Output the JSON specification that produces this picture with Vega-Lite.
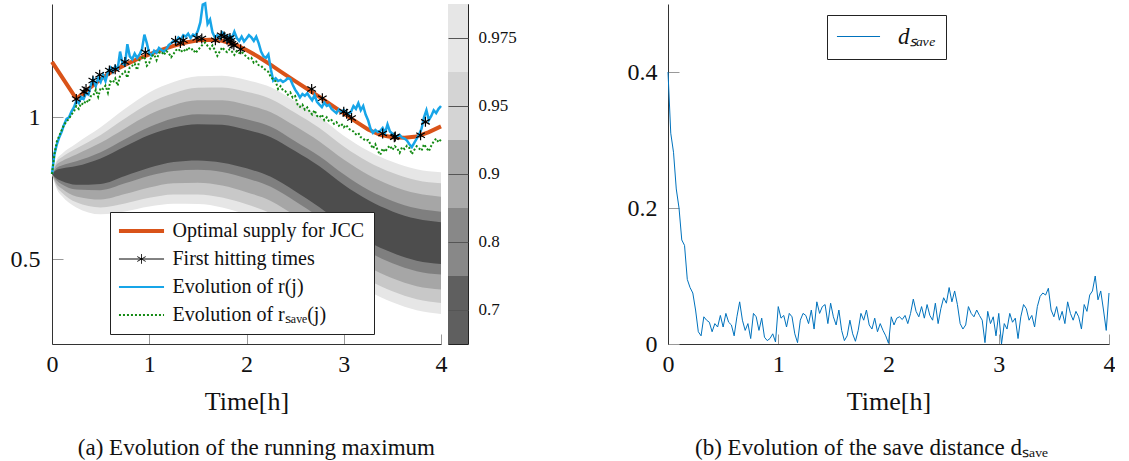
{
"$schema": "https://vega.github.io/schema/vega-lite/v6.json",
"padding": {"left": 10, "top": -2, "right": 0, "bottom": 0},
"datasets": {
"series": [
{"t":0,"r":0.8,"s":0.8,"d":0.4},{"t":0.025,"r":0.87,"s":0.87,"d":0.31},{"t":0.05,"r":0.905,"s":0.915,"d":0.282},{"t":0.075,"r":0.93,"s":0.935,"d":0.228},{"t":0.1,"r":0.95,"s":0.955,"d":0.2},{"t":0.125,"r":0.975,"s":0.975,"d":0.153},{"t":0.15,"r":0.995,"s":0.985,"d":0.145},{"t":0.175,"r":1.0,"s":0.995,"d":0.095},{"t":0.2,"r":1.02,"s":1.01,"d":0.083},{"t":0.225,"r":1.035,"s":1.02,"d":0.075},
{"t":0.25,"r":1.058,"s":1.04,"d":0.05},{"t":0.275,"r":1.05,"s":1.03,"d":0.018},{"t":0.3,"r":1.072,"s":1.05,"d":0.012},{"t":0.325,"r":1.065,"s":1.045,"d":0.04},{"t":0.35,"r":1.085,"s":1.06,"d":0.035},{"t":0.375,"r":1.08,"s":1.053,"d":0.032},{"t":0.4,"r":1.115,"s":1.075,"d":0.018},{"t":0.425,"r":1.135,"s":1.077,"d":0.03},{"t":0.45,"r":1.11,"s":1.097,"d":0.025},{"t":0.475,"r":1.14,"s":1.072,"d":0.042},
{"t":0.5,"r":1.125,"s":1.104,"d":0.025},{"t":0.525,"r":1.15,"s":1.1,"d":0.045},{"t":0.55,"r":1.128,"s":1.112,"d":0.032},{"t":0.575,"r":1.16,"s":1.087,"d":0.028},{"t":0.6,"r":1.175,"s":1.127,"d":0.012},{"t":0.625,"r":1.16,"s":1.122,"d":0.04},{"t":0.65,"r":1.18,"s":1.137,"d":0.062},{"t":0.675,"r":1.17,"s":1.112,"d":0.035},{"t":0.7,"r":1.232,"s":1.147,"d":0.02},{"t":0.725,"r":1.19,"s":1.154,"d":0.03},
{"t":0.75,"r":1.185,"s":1.162,"d":0.008},{"t":0.775,"r":1.258,"s":1.14,"d":0.045},{"t":0.8,"r":1.215,"s":1.177,"d":0.04},{"t":0.825,"r":1.205,"s":1.182,"d":0.02},{"t":0.85,"r":1.225,"s":1.19,"d":0.038},{"t":0.875,"r":1.21,"s":1.167,"d":0.01},{"t":0.9,"r":1.222,"s":1.202,"d":0.005},{"t":0.925,"r":1.24,"s":1.21,"d":0.008},{"t":0.95,"r":1.292,"s":1.214,"d":0.015},{"t":0.975,"r":1.262,"s":1.182,"d":0.003},
{"t":1.0,"r":1.225,"s":1.192,"d":0.055},{"t":1.025,"r":1.218,"s":1.217,"d":0.038},{"t":1.05,"r":1.235,"s":1.222,"d":0.042},{"t":1.075,"r":1.228,"s":1.202,"d":0.025},{"t":1.1,"r":1.245,"s":1.227,"d":0.045},{"t":1.125,"r":1.238,"s":1.232,"d":0.04},{"t":1.15,"r":1.232,"s":1.22,"d":0.015},{"t":1.175,"r":1.24,"s":1.234,"d":0.002},{"t":1.2,"r":1.255,"s":1.227,"d":0.035},{"t":1.225,"r":1.262,"s":1.212,"d":0.045},
{"t":1.25,"r":1.27,"s":1.224,"d":0.042},{"t":1.275,"r":1.265,"s":1.237,"d":0.03},{"t":1.3,"r":1.282,"s":1.242,"d":0.05},{"t":1.325,"r":1.275,"s":1.23,"d":0.022},{"t":1.35,"r":1.29,"s":1.24,"d":0.062},{"t":1.375,"r":1.285,"s":1.232,"d":0.045},{"t":1.4,"r":1.295,"s":1.247,"d":0.055},{"t":1.425,"r":1.28,"s":1.237,"d":0.058},{"t":1.45,"r":1.292,"s":1.242,"d":0.03},{"t":1.475,"r":1.288,"s":1.227,"d":0.06},
{"t":1.5,"r":1.305,"s":1.237,"d":0.04},{"t":1.525,"r":1.335,"s":1.247,"d":0.028},{"t":1.55,"r":1.398,"s":1.257,"d":0.05},{"t":1.575,"r":1.402,"s":1.264,"d":0.02},{"t":1.6,"r":1.33,"s":1.252,"d":0.005},{"t":1.625,"r":1.345,"s":1.242,"d":0.012},{"t":1.65,"r":1.3,"s":1.254,"d":0.035},{"t":1.675,"r":1.282,"s":1.237,"d":0.015},{"t":1.7,"r":1.29,"s":1.217,"d":0.004},{"t":1.725,"r":1.278,"s":1.232,"d":0.02},
{"t":1.75,"r":1.3,"s":1.247,"d":0.045},{"t":1.775,"r":1.292,"s":1.237,"d":0.035},{"t":1.8,"r":1.27,"s":1.23,"d":0.05},{"t":1.825,"r":1.288,"s":1.24,"d":0.028},{"t":1.85,"r":1.28,"s":1.232,"d":0.022},{"t":1.875,"r":1.302,"s":1.22,"d":0.038},{"t":1.9,"r":1.28,"s":1.234,"d":0.018},{"t":1.925,"r":1.27,"s":1.227,"d":0.03},{"t":1.95,"r":1.285,"s":1.232,"d":0.02},{"t":1.975,"r":1.268,"s":1.222,"d":0.012},
{"t":2.0,"r":1.278,"s":1.214,"d":0.001},{"t":2.025,"r":1.29,"s":1.207,"d":0.04},{"t":2.05,"r":1.282,"s":1.21,"d":0.028},{"t":2.075,"r":1.27,"s":1.192,"d":0.038},{"t":2.1,"r":1.285,"s":1.197,"d":0.04},{"t":2.125,"r":1.262,"s":1.184,"d":0.036},{"t":2.15,"r":1.232,"s":1.182,"d":0.042},{"t":2.175,"r":1.215,"s":1.172,"d":0.03},{"t":2.2,"r":1.21,"s":1.167,"d":0.045},{"t":2.225,"r":1.222,"s":1.16,"d":0.066},
{"t":2.25,"r":1.17,"s":1.142,"d":0.048},{"t":2.275,"r":1.13,"s":1.134,"d":0.04},{"t":2.3,"r":1.138,"s":1.127,"d":0.055},{"t":2.325,"r":1.128,"s":1.1,"d":0.038},{"t":2.35,"r":1.132,"s":1.11,"d":0.058},{"t":2.375,"r":1.125,"s":1.095,"d":0.042},{"t":2.4,"r":1.13,"s":1.092,"d":0.035},{"t":2.425,"r":1.138,"s":1.08,"d":0.06},{"t":2.45,"r":1.135,"s":1.088,"d":0.03},{"t":2.475,"r":1.115,"s":1.07,"d":0.052},
{"t":2.5,"r":1.098,"s":1.075,"d":0.068},{"t":2.525,"r":1.085,"s":1.045,"d":0.06},{"t":2.55,"r":1.07,"s":1.037,"d":0.083},{"t":2.575,"r":1.082,"s":1.045,"d":0.062},{"t":2.6,"r":1.076,"s":1.027,"d":0.078},{"t":2.625,"r":1.085,"s":1.035,"d":0.058},{"t":2.65,"r":1.072,"s":1.02,"d":0.03},{"t":2.675,"r":1.06,"s":1.01,"d":0.022},{"t":2.7,"r":1.078,"s":1.025,"d":0.028},{"t":2.725,"r":1.055,"s":1.005,"d":0.055},
{"t":2.75,"r":1.045,"s":1.0,"d":0.045},{"t":2.775,"r":1.036,"s":1.01,"d":0.04},{"t":2.8,"r":1.052,"s":0.99,"d":0.05},{"t":2.825,"r":1.04,"s":1.0,"d":0.042},{"t":2.85,"r":1.044,"s":0.985,"d":0.035},{"t":2.875,"r":1.03,"s":0.99,"d":0.002},{"t":2.9,"r":1.022,"s":0.977,"d":0.048},{"t":2.925,"r":1.015,"s":0.983,"d":0.03},{"t":2.95,"r":1.028,"s":0.97,"d":0.04},{"t":2.975,"r":1.02,"s":0.977,"d":0.012},
{"t":3.0,"r":1.026,"s":0.965,"d":0.045},{"t":3.025,"r":1.018,"s":0.973,"d":0.0},{"t":3.05,"r":1.012,"s":0.96,"d":0.03},{"t":3.075,"r":1.02,"s":0.955,"d":0.022},{"t":3.1,"r":1.04,"s":0.95,"d":0.045},{"t":3.125,"r":1.03,"s":0.94,"d":0.032},{"t":3.15,"r":1.05,"s":0.945,"d":0.038},{"t":3.175,"r":1.025,"s":0.93,"d":0.008},{"t":3.2,"r":1.04,"s":0.925,"d":0.04},{"t":3.225,"r":1.01,"s":0.917,"d":0.058},
{"t":3.25,"r":0.99,"s":0.92,"d":0.052},{"t":3.275,"r":0.96,"s":0.905,"d":0.035},{"t":3.3,"r":0.945,"s":0.89,"d":0.042},{"t":3.325,"r":0.955,"s":0.905,"d":0.025},{"t":3.35,"r":0.948,"s":0.882,"d":0.055},{"t":3.375,"r":0.952,"s":0.868,"d":0.07},{"t":3.4,"r":0.962,"s":0.89,"d":0.075},{"t":3.425,"r":0.945,"s":0.878,"d":0.072},{"t":3.45,"r":0.975,"s":0.892,"d":0.082},{"t":3.475,"r":0.95,"s":0.9,"d":0.05},
{"t":3.5,"r":0.942,"s":0.885,"d":0.04},{"t":3.525,"r":0.935,"s":0.898,"d":0.055},{"t":3.55,"r":0.932,"s":0.89,"d":0.035},{"t":3.575,"r":0.938,"s":0.875,"d":0.048},{"t":3.6,"r":0.928,"s":0.895,"d":0.03},{"t":3.625,"r":0.925,"s":0.888,"d":0.062},{"t":3.65,"r":0.918,"s":0.9,"d":0.045},{"t":3.675,"r":0.905,"s":0.892,"d":0.035},{"t":3.7,"r":0.895,"s":0.87,"d":0.048},{"t":3.725,"r":0.91,"s":0.885,"d":0.04},
{"t":3.75,"r":0.925,"s":0.898,"d":0.022},{"t":3.775,"r":0.94,"s":0.89,"d":0.058},{"t":3.8,"r":0.96,"s":0.882,"d":0.048},{"t":3.825,"r":1.0,"s":0.905,"d":0.072},{"t":3.85,"r":1.025,"s":0.892,"d":0.078},{"t":3.875,"r":0.99,"s":0.88,"d":0.1},{"t":3.9,"r":1.005,"s":0.9,"d":0.065},{"t":3.925,"r":1.025,"s":0.915,"d":0.078},{"t":3.95,"r":1.015,"s":0.925,"d":0.05},{"t":3.975,"r":1.03,"s":0.912,"d":0.02},
{"t":4.0,"r":1.04,"s":0.922,"d":0.075}
],
"fan": [
{"t":0,"l1":0.8,"h1":0.8,"l2":0.8,"h2":0.8,"l3":0.8,"h3":0.8,"l4":0.8,"h4":0.8,"l5":0.8,"h5":0.8},
{"t":0.05,"l1":0.783,"h1":0.815,"l2":0.776,"h2":0.822,"l3":0.764,"h3":0.834,"l4":0.754,"h4":0.844,"l5":0.746,"h5":0.852},
{"t":0.1,"l1":0.775,"h1":0.819,"l2":0.764,"h2":0.83,"l3":0.749,"h3":0.845,"l4":0.735,"h4":0.859,"l5":0.723,"h5":0.871},
{"t":0.25,"l1":0.762,"h1":0.828,"l2":0.745,"h2":0.845,"l3":0.721,"h3":0.869,"l4":0.7,"h4":0.89,"l5":0.682,"h5":0.908},
{"t":0.5,"l1":0.765,"h1":0.855,"l2":0.743,"h2":0.877,"l3":0.71,"h3":0.91,"l4":0.682,"h4":0.938,"l5":0.658,"h5":0.965},
{"t":0.75,"l1":0.793,"h1":0.897,"l2":0.767,"h2":0.923,"l3":0.729,"h3":0.961,"l4":0.696,"h4":0.996,"l5":0.668,"h5":1.03},
{"t":1.0,"l1":0.822,"h1":0.938,"l2":0.794,"h2":0.966,"l3":0.752,"h3":1.01,"l4":0.716,"h4":1.05,"l5":0.685,"h5":1.088},
{"t":1.25,"l1":0.842,"h1":0.964,"l2":0.811,"h2":0.997,"l3":0.767,"h3":1.043,"l4":0.728,"h4":1.085,"l5":0.695,"h5":1.125},
{"t":1.5,"l1":0.848,"h1":0.976,"l2":0.815,"h2":1.011,"l3":0.769,"h3":1.06,"l4":0.728,"h4":1.104,"l5":0.694,"h5":1.145},
{"t":1.75,"l1":0.84,"h1":0.974,"l2":0.807,"h2":1.009,"l3":0.759,"h3":1.06,"l4":0.717,"h4":1.105,"l5":0.682,"h5":1.147},
{"t":2.0,"l1":0.82,"h1":0.956,"l2":0.785,"h2":0.993,"l3":0.736,"h3":1.044,"l4":0.693,"h4":1.09,"l5":0.657,"h5":1.132},
{"t":2.25,"l1":0.79,"h1":0.93,"l2":0.755,"h2":0.967,"l3":0.705,"h3":1.018,"l4":0.661,"h4":1.065,"l5":0.624,"h5":1.106},
{"t":2.5,"l1":0.739,"h1":0.881,"l2":0.704,"h2":0.916,"l3":0.653,"h3":0.969,"l4":0.608,"h4":1.016,"l5":0.57,"h5":1.057},
{"t":2.75,"l1":0.683,"h1":0.827,"l2":0.647,"h2":0.863,"l3":0.596,"h3":0.915,"l4":0.55,"h4":0.962,"l5":0.512,"h5":1.002},
{"t":3.0,"l1":0.618,"h1":0.762,"l2":0.581,"h2":0.799,"l3":0.529,"h3":0.851,"l4":0.483,"h4":0.897,"l5":0.445,"h5":0.935},
{"t":3.25,"l1":0.562,"h1":0.708,"l2":0.526,"h2":0.744,"l3":0.473,"h3":0.797,"l4":0.427,"h4":0.843,"l5":0.388,"h5":0.882},
{"t":3.5,"l1":0.522,"h1":0.668,"l2":0.485,"h2":0.705,"l3":0.432,"h3":0.758,"l4":0.386,"h4":0.804,"l5":0.347,"h5":0.843},
{"t":3.75,"l1":0.494,"h1":0.642,"l2":0.457,"h2":0.679,"l3":0.404,"h3":0.732,"l4":0.358,"h4":0.778,"l5":0.319,"h5":0.817},
{"t":4.0,"l1":0.482,"h1":0.63,"l2":0.445,"h2":0.667,"l3":0.392,"h3":0.72,"l4":0.345,"h4":0.767,"l5":0.306,"h5":0.806}
],
"opt": [
{"t":0,"v":1.196},{"t":0.25,"v":1.065},{"t":0.375,"v":1.1},{"t":0.5,"v":1.135},{"t":0.625,"v":1.163},{"t":0.75,"v":1.185},{"t":0.875,"v":1.205},{"t":1.0,"v":1.222},{"t":1.125,"v":1.238},{"t":1.25,"v":1.252},{"t":1.375,"v":1.264},{"t":1.5,"v":1.272},{"t":1.625,"v":1.274},{"t":1.75,"v":1.27},{"t":1.875,"v":1.258},{"t":2.0,"v":1.238},{"t":2.125,"v":1.213},{"t":2.25,"v":1.185},{"t":2.375,"v":1.156},{"t":2.5,"v":1.128},{"t":2.625,"v":1.1},{"t":2.75,"v":1.072},{"t":2.875,"v":1.043},{"t":3.0,"v":1.014},{"t":3.125,"v":0.985},{"t":3.25,"v":0.957},{"t":3.375,"v":0.938},{"t":3.5,"v":0.93},{"t":3.625,"v":0.928},{"t":3.75,"v":0.932},{"t":3.875,"v":0.948},{"t":4.0,"v":0.968}
],
"stars": [
{"t":0.25,"v":1.065},{"t":0.33,"v":1.09},{"t":0.35,"v":1.1},{"t":0.42,"v":1.13},{"t":0.49,"v":1.15},{"t":0.59,"v":1.165},{"t":0.65,"v":1.17},{"t":0.75,"v":1.195},{"t":0.96,"v":1.23},{"t":1.27,"v":1.27},{"t":1.32,"v":1.262},{"t":1.35,"v":1.272},{"t":1.49,"v":1.28},{"t":1.54,"v":1.278},{"t":1.68,"v":1.272},{"t":1.74,"v":1.29},{"t":1.77,"v":1.285},{"t":1.8,"v":1.275},{"t":1.83,"v":1.28},{"t":1.84,"v":1.27},{"t":1.85,"v":1.26},{"t":1.87,"v":1.254},{"t":1.94,"v":1.24},{"t":2.67,"v":1.1},{"t":2.78,"v":1.067},{"t":3.0,"v":1.02},{"t":3.03,"v":1.013},{"t":3.08,"v":0.998},{"t":3.4,"v":0.943},{"t":3.52,"v":0.93},{"t":3.53,"v":0.932},{"t":3.79,"v":0.937},{"t":3.84,"v":0.984}
]
},
"hconcat": [
{
"hconcat": [
{
"width": 389, "height": 340,
"encoding": {"x": {"field": "t", "type": "quantitative", "scale": {"domain": [0, 4], "nice": false, "zero": false}, "axis": {"values": [0, 1, 2, 3, 4], "format": "d", "tickSize": -10, "labelPadding": 18, "labelFontSize": 24, "labelFlush": false, "title": "Time[h]", "titleFontSize": 26, "titlePadding": 12}}},
"layer": [
{"data": {"name": "fan"}, "mark": {"type": "area", "color": "#e6e6e6", "interpolate": "monotone"}, "encoding": {"y": {"field": "h5", "type": "quantitative", "scale": {"domain": [0.2, 1.4], "nice": false, "zero": false}, "axis": {"values": [0.5, 1], "format": "~g", "tickSize": -11, "labelPadding": 23, "labelFontSize": 24, "title": null}}, "y2": {"field": "l5"}}},
{"data": {"name": "fan"}, "mark": {"type": "area", "color": "#c8c8c8", "interpolate": "monotone"}, "encoding": {"y": {"field": "h4", "type": "quantitative", "title": null}, "y2": {"field": "l4"}}},
{"data": {"name": "fan"}, "mark": {"type": "area", "color": "#a6a6a6", "interpolate": "monotone"}, "encoding": {"y": {"field": "h3", "type": "quantitative", "title": null}, "y2": {"field": "l3"}}},
{"data": {"name": "fan"}, "mark": {"type": "area", "color": "#7f7f7f", "interpolate": "monotone"}, "encoding": {"y": {"field": "h2", "type": "quantitative", "title": null}, "y2": {"field": "l2"}}},
{"data": {"name": "fan"}, "mark": {"type": "area", "color": "#4d4d4d", "interpolate": "monotone"}, "encoding": {"y": {"field": "h1", "type": "quantitative", "title": null}, "y2": {"field": "l1"}}},
{"data": {"name": "opt"}, "mark": {"type": "line", "strokeWidth": 4}, "encoding": {"y": {"field": "v", "type": "quantitative", "title": null},
 "color": {"datum": "Optimal supply for JCC", "type": "nominal",
  "scale": {"domain": ["Optimal supply for JCC", "First hitting times", "Evolution of r(j)", "Evolution of rₛₐᵥₑ(j)"], "range": ["#d95319", "#000000", "#17a5e8", "#138a13"]},
  "legend": {"title": null, "orient": "none", "legendX": 58, "legendY": 208, "direction": "vertical", "padding": 9, "rowPadding": 8, "strokeColor": "#222", "fillColor": "#ffffff", "labelFontSize": 20, "labelOffset": 21, "symbolSize": 127, "symbolOffset": 12.5, "labelLimit": 400, "symbolType": "M-4,0L4,0",
   "encode": {"symbols": {"update": {
     "shape": {"signal": "datum.index === 1 ? 'M-4,0L4,0M0,-0.85L0,0.85M-0.74,-0.425L0.74,0.425M-0.74,0.425L0.74,-0.425' : 'M-4,0L4,0'"},
     "strokeWidth": {"signal": "datum.index === 0 ? 4 : (datum.index === 1 ? 1 : 2)"},
     "strokeDash": {"signal": "datum.index === 3 ? [2,2] : [1,0]"},
     "fill": {"value": "transparent"},
     "opacity": {"value": 1}
   }}}
  }}}},
{"data": {"name": "series"}, "mark": {"type": "line", "strokeWidth": 2.5}, "encoding": {"y": {"field": "r", "type": "quantitative", "title": null}, "color": {"datum": "Evolution of r(j)", "type": "nominal"}}},
{"data": {"name": "stars"}, "mark": {"type": "point", "shape": "M0,-1L0,1M-0.866,-0.5L0.866,0.5M-0.866,0.5L0.866,-0.5", "size": 100, "strokeWidth": 1.2, "filled": false, "opacity": 1}, "encoding": {"y": {"field": "v", "type": "quantitative", "title": null}, "color": {"datum": "First hitting times", "type": "nominal"}}},
{"data": {"name": "series"}, "mark": {"type": "line", "strokeWidth": 2, "strokeDash": [2, 2]}, "encoding": {"y": {"field": "s", "type": "quantitative", "title": null}, "color": {"datum": "Evolution of rₛₐᵥₑ(j)", "type": "nominal"}}}
]
},
{
"width": 20, "height": 340,
"view": {"stroke": "#222"},
"data": {"values": [{"lvl": "0.975"}, {"lvl": "0.95"}, {"lvl": "0.9"}, {"lvl": "0.8"}, {"lvl": "0.7"}]},
"mark": {"type": "rect"},
"encoding": {
"y": {"field": "lvl", "type": "ordinal", "sort": ["0.975", "0.95", "0.9", "0.8", "0.7"], "scale": {"paddingInner": 0, "paddingOuter": 0}, "axis": {"orient": "right", "title": null, "ticks": false, "domain": false, "grid": true, "gridColor": "#555", "gridWidth": 1, "bandPosition": 0.5, "zindex": 1, "labelFontSize": 17, "labelPadding": 10}},
"fill": {"field": "lvl", "type": "ordinal", "scale": {"domain": ["0.975", "0.95", "0.9", "0.8", "0.7"], "range": ["#e6e6e6", "#d4d4d4", "#aaaaaa", "#888888", "#5f5f5f"]}, "legend": null}
}
}
],
"spacing": 7,
"bounds": "flush",
"resolve": {"scale": {"x": "independent", "y": "independent"}},
"title": {"text": "(a) Evolution of the running maximum", "orient": "bottom", "anchor": "middle", "fontSize": 23, "offset": 23, "dx": -7}
},
{
"width": 441, "height": 340,
"data": {"name": "series"},
"mark": {"type": "line", "strokeWidth": 1},
"encoding": {
"x": {"field": "t", "type": "quantitative", "scale": {"domain": [0, 4], "nice": false, "zero": false}, "axis": {"values": [0, 1, 2, 3, 4], "format": "d", "tickSize": -10, "labelPadding": 18, "labelFontSize": 24, "labelFlush": false, "title": "Time[h]", "titleFontSize": 26, "titlePadding": 12}},
"y": {"field": "d", "type": "quantitative", "scale": {"domain": [0, 0.5], "nice": false}, "axis": {"values": [0, 0.2, 0.4], "format": "~g", "tickSize": -11, "labelPadding": 22, "labelFontSize": 24, "title": null}},
"color": {"datum": "dₛₐᵥₑ", "type": "nominal", "scale": {"range": ["#0072bd"]},
 "legend": {"title": null, "orient": "none", "legendX": 159, "legendY": 11, "padding": 10, "strokeColor": "#222", "fillColor": "#ffffff", "labelFontSize": 23, "labelFontStyle": "italic", "symbolType": "M-4,0L4,0", "symbolSize": 116, "symbolOffset": 10, "labelOffset": 28, "symbolStrokeWidth": 1}}
},
"title": {"text": "(b) Evolution of the save distance dₛₐᵥₑ", "orient": "bottom", "anchor": "middle", "fontSize": 23, "offset": 23, "dx": -17}
}
],
"spacing": 110,
"resolve": {"scale": {"x": "independent", "y": "independent", "color": "independent"}, "legend": {"color": "independent"}},
"config": {
"font": "Liberation Serif",
"view": {"stroke": null},
"axis": {"labelFont": "Liberation Serif", "titleFont": "Liberation Serif", "labelColor": "#111", "titleColor": "#111", "titleFontWeight": "normal", "domainColor": "#333", "tickColor": "#999", "grid": false},
"legend": {"labelFont": "Liberation Serif", "labelColor": "#111"},
"title": {"font": "Liberation Serif", "fontWeight": "normal", "color": "#111"}
}
}
